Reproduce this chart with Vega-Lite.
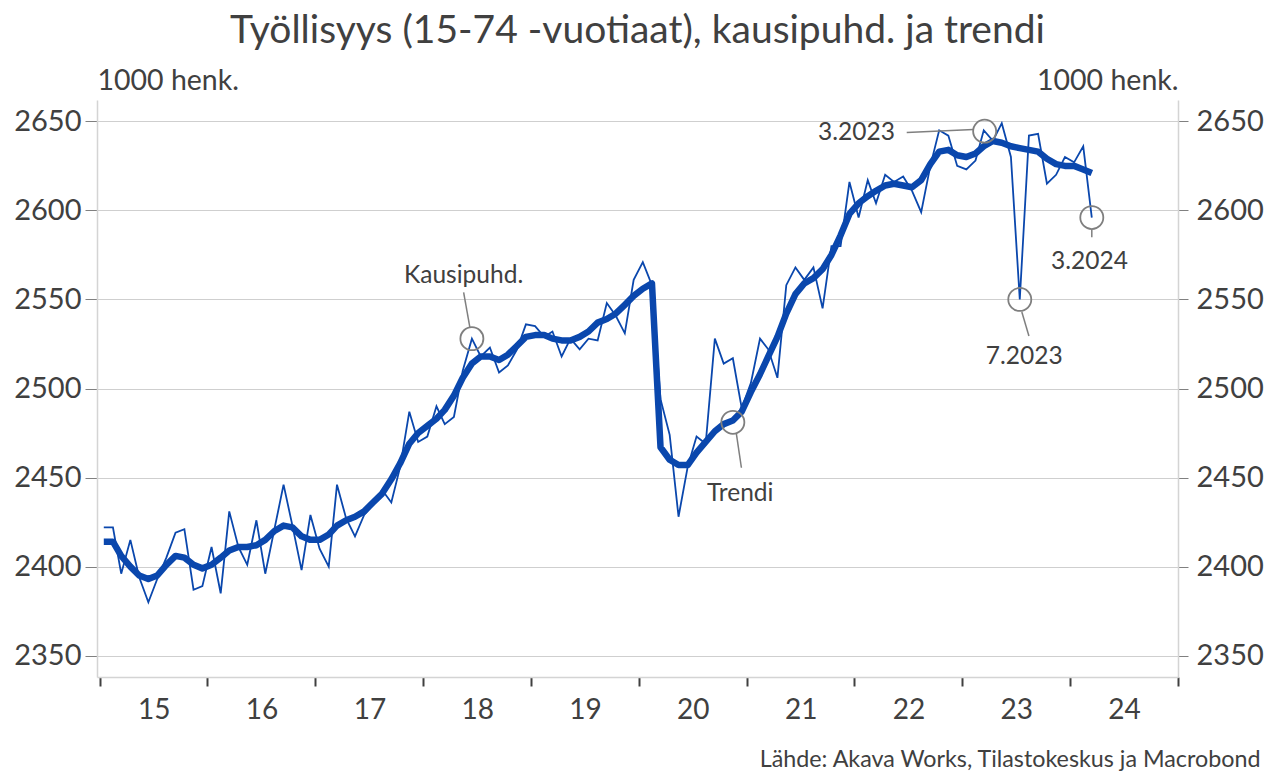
{
  "$schema": "https://vega.github.io/schema/vega-lite/v6.json",
  "width": 1081,
  "height": 577,
  "autosize": {"type": "none"},
  "padding": {"left": 97, "top": 100, "right": 88, "bottom": 96},
  "background": "white",
  "config": {
    "font": "Lato",
    "view": {"stroke": null},
    "axis": {"labelFont": "Lato", "titleFont": "Lato", "labelColor": "#404040", "titleColor": "#404040", "titleFontWeight": "normal"}
  },
  "title": {
    "text": "Työllisyys (15-74 -vuotiaat), kausipuhd. ja trendi",
    "font": "Lato",
    "fontSize": 39,
    "fontWeight": "normal",
    "color": "#404040",
    "anchor": "middle",
    "offset": 15
  },
  "datasets": {
    "series": [
      {"d": "2015-01-15", "sa": 2422, "trend": 2414},
      {"d": "2015-02-15", "sa": 2422, "trend": 2414},
      {"d": "2015-03-15", "sa": 2396, "trend": 2406},
      {"d": "2015-04-15", "sa": 2415, "trend": 2400},
      {"d": "2015-05-15", "sa": 2394, "trend": 2395},
      {"d": "2015-06-15", "sa": 2380, "trend": 2393},
      {"d": "2015-07-15", "sa": 2393, "trend": 2395},
      {"d": "2015-08-15", "sa": 2405, "trend": 2401},
      {"d": "2015-09-15", "sa": 2419, "trend": 2406},
      {"d": "2015-10-15", "sa": 2421, "trend": 2405},
      {"d": "2015-11-15", "sa": 2387, "trend": 2401},
      {"d": "2015-12-15", "sa": 2389, "trend": 2399},
      {"d": "2016-01-15", "sa": 2411, "trend": 2401},
      {"d": "2016-02-15", "sa": 2385, "trend": 2405},
      {"d": "2016-03-15", "sa": 2431, "trend": 2409},
      {"d": "2016-04-15", "sa": 2411, "trend": 2411},
      {"d": "2016-05-15", "sa": 2401, "trend": 2411},
      {"d": "2016-06-15", "sa": 2426, "trend": 2412},
      {"d": "2016-07-15", "sa": 2396, "trend": 2415},
      {"d": "2016-08-15", "sa": 2421, "trend": 2420},
      {"d": "2016-09-15", "sa": 2446, "trend": 2423},
      {"d": "2016-10-15", "sa": 2423, "trend": 2422},
      {"d": "2016-11-15", "sa": 2398, "trend": 2417},
      {"d": "2016-12-15", "sa": 2429, "trend": 2415},
      {"d": "2017-01-15", "sa": 2410, "trend": 2415},
      {"d": "2017-02-15", "sa": 2400, "trend": 2418},
      {"d": "2017-03-15", "sa": 2446, "trend": 2423},
      {"d": "2017-04-15", "sa": 2427, "trend": 2426},
      {"d": "2017-05-15", "sa": 2417, "trend": 2428},
      {"d": "2017-06-15", "sa": 2429, "trend": 2431},
      {"d": "2017-07-15", "sa": 2435, "trend": 2436},
      {"d": "2017-08-15", "sa": 2443, "trend": 2441},
      {"d": "2017-09-15", "sa": 2436, "trend": 2449},
      {"d": "2017-10-15", "sa": 2456, "trend": 2458},
      {"d": "2017-11-15", "sa": 2487, "trend": 2469},
      {"d": "2017-12-15", "sa": 2470, "trend": 2475},
      {"d": "2018-01-15", "sa": 2473, "trend": 2479},
      {"d": "2018-02-15", "sa": 2490, "trend": 2483},
      {"d": "2018-03-15", "sa": 2480, "trend": 2488},
      {"d": "2018-04-15", "sa": 2484, "trend": 2496},
      {"d": "2018-05-15", "sa": 2510, "trend": 2506},
      {"d": "2018-06-15", "sa": 2528, "trend": 2514},
      {"d": "2018-07-15", "sa": 2518, "trend": 2518},
      {"d": "2018-08-15", "sa": 2523, "trend": 2518},
      {"d": "2018-09-15", "sa": 2509, "trend": 2516},
      {"d": "2018-10-15", "sa": 2513, "trend": 2519},
      {"d": "2018-11-15", "sa": 2522, "trend": 2524},
      {"d": "2018-12-15", "sa": 2536, "trend": 2529},
      {"d": "2019-01-15", "sa": 2535, "trend": 2530},
      {"d": "2019-02-15", "sa": 2529, "trend": 2530},
      {"d": "2019-03-15", "sa": 2532, "trend": 2528},
      {"d": "2019-04-15", "sa": 2518, "trend": 2527},
      {"d": "2019-05-15", "sa": 2528, "trend": 2527},
      {"d": "2019-06-15", "sa": 2522, "trend": 2529},
      {"d": "2019-07-15", "sa": 2528, "trend": 2532},
      {"d": "2019-08-15", "sa": 2527, "trend": 2537},
      {"d": "2019-09-15", "sa": 2548, "trend": 2539},
      {"d": "2019-10-15", "sa": 2541, "trend": 2542},
      {"d": "2019-11-15", "sa": 2531, "trend": 2547},
      {"d": "2019-12-15", "sa": 2561, "trend": 2552},
      {"d": "2020-01-15", "sa": 2571, "trend": 2556},
      {"d": "2020-02-15", "sa": 2558, "trend": 2559},
      {"d": "2020-03-15", "sa": 2494, "trend": 2467},
      {"d": "2020-04-15", "sa": 2474, "trend": 2460},
      {"d": "2020-05-15", "sa": 2428, "trend": 2457},
      {"d": "2020-06-15", "sa": 2456, "trend": 2457},
      {"d": "2020-07-15", "sa": 2473, "trend": 2464},
      {"d": "2020-08-15", "sa": 2469, "trend": 2470},
      {"d": "2020-09-15", "sa": 2528, "trend": 2476},
      {"d": "2020-10-15", "sa": 2514, "trend": 2480},
      {"d": "2020-11-15", "sa": 2517, "trend": 2482},
      {"d": "2020-12-15", "sa": 2489, "trend": 2487},
      {"d": "2021-01-15", "sa": 2503, "trend": 2498},
      {"d": "2021-02-15", "sa": 2528, "trend": 2508},
      {"d": "2021-03-15", "sa": 2522, "trend": 2518},
      {"d": "2021-04-15", "sa": 2506, "trend": 2529},
      {"d": "2021-05-15", "sa": 2558, "trend": 2542},
      {"d": "2021-06-15", "sa": 2568, "trend": 2553},
      {"d": "2021-07-15", "sa": 2561, "trend": 2559},
      {"d": "2021-08-15", "sa": 2568, "trend": 2562},
      {"d": "2021-09-15", "sa": 2545, "trend": 2567},
      {"d": "2021-10-15", "sa": 2580, "trend": 2575},
      {"d": "2021-11-15", "sa": 2580, "trend": 2586},
      {"d": "2021-12-15", "sa": 2616, "trend": 2598},
      {"d": "2022-01-15", "sa": 2596, "trend": 2604},
      {"d": "2022-02-15", "sa": 2617, "trend": 2608},
      {"d": "2022-03-15", "sa": 2604, "trend": 2611},
      {"d": "2022-04-15", "sa": 2620, "trend": 2614},
      {"d": "2022-05-15", "sa": 2616, "trend": 2615},
      {"d": "2022-06-15", "sa": 2619, "trend": 2614},
      {"d": "2022-07-15", "sa": 2611, "trend": 2613},
      {"d": "2022-08-15", "sa": 2599, "trend": 2617},
      {"d": "2022-09-15", "sa": 2625, "trend": 2626},
      {"d": "2022-10-15", "sa": 2645, "trend": 2633},
      {"d": "2022-11-15", "sa": 2642, "trend": 2634},
      {"d": "2022-12-15", "sa": 2625, "trend": 2631},
      {"d": "2023-01-15", "sa": 2623, "trend": 2630},
      {"d": "2023-02-15", "sa": 2628, "trend": 2632},
      {"d": "2023-03-15", "sa": 2645, "trend": 2636},
      {"d": "2023-04-15", "sa": 2639, "trend": 2639},
      {"d": "2023-05-15", "sa": 2649, "trend": 2638},
      {"d": "2023-06-15", "sa": 2630, "trend": 2636},
      {"d": "2023-07-15", "sa": 2550, "trend": 2635},
      {"d": "2023-08-15", "sa": 2642, "trend": 2634},
      {"d": "2023-09-15", "sa": 2643, "trend": 2633},
      {"d": "2023-10-15", "sa": 2615, "trend": 2629},
      {"d": "2023-11-15", "sa": 2620, "trend": 2626},
      {"d": "2023-12-15", "sa": 2630, "trend": 2625},
      {"d": "2024-01-15", "sa": 2627, "trend": 2625},
      {"d": "2024-02-15", "sa": 2636, "trend": 2623},
      {"d": "2024-03-15", "sa": 2596, "trend": 2621}
    ],
    "circles": [
      {"d": "2018-06-15", "v": 2528},
      {"d": "2020-11-15", "v": 2481},
      {"d": "2023-03-18", "v": 2644.5},
      {"d": "2023-07-15", "v": 2550},
      {"d": "2024-03-15", "v": 2596}
    ],
    "leaders": [
      {"d": "2018-05-18", "v": 2554, "d2": "2018-06-08", "v2": 2534.5},
      {"d": "2020-11-27", "v": 2474.5, "d2": "2020-12-14", "v2": 2455.5},
      {"d": "2022-06-27", "v": 2643.8, "d2": "2023-02-08", "v2": 2645.5},
      {"d": "2023-07-22", "v": 2543, "d2": "2023-08-15", "v2": 2529.5},
      {"d": "2024-03-15", "v": 2589, "d2": "2024-03-15", "v2": 2585}
    ],
    "labels": [
      {"d": "2018-05-18", "v": 2563, "t": "Kausipuhd."},
      {"d": "2020-12-10", "v": 2441, "t": "Trendi"},
      {"d": "2022-01-08", "v": 2643.5, "t": "3.2023"},
      {"d": "2023-07-30", "v": 2517.7, "t": "7.2023"},
      {"d": "2024-03-07", "v": 2571, "t": "3.2024"}
    ]
  },
  "layer": [
    {
      "data": {"name": "series"},
      "mark": {"type": "line", "color": "#0a47ad", "strokeWidth": 1.8, "strokeJoin": "miter"},
      "encoding": {
        "x": {
          "field": "d", "type": "temporal",
          "scale": {"type": "utc", "domain": [{"year": 2014, "month": 12, "date": 23, "utc": true}, {"year": 2025, "month": 1, "date": 1, "utc": true}]},
          "axis": {
            "values": [
              {"year": 2015, "month": 1, "date": 1, "utc": true},
              {"year": 2016, "month": 1, "date": 1, "utc": true},
              {"year": 2017, "month": 1, "date": 1, "utc": true},
              {"year": 2018, "month": 1, "date": 1, "utc": true},
              {"year": 2019, "month": 1, "date": 1, "utc": true},
              {"year": 2020, "month": 1, "date": 1, "utc": true},
              {"year": 2021, "month": 1, "date": 1, "utc": true},
              {"year": 2022, "month": 1, "date": 1, "utc": true},
              {"year": 2023, "month": 1, "date": 1, "utc": true},
              {"year": 2024, "month": 1, "date": 1, "utc": true},
              {"year": 2025, "month": 1, "date": 1, "utc": true}
            ],
            "labelExpr": "utcyear(datum.value) < 2025 ? utcFormat(datum.value, '%y') : ''",
            "labelOffset": 54,
            "labelFlush": false,
            "labelOverlap": false,
            "labelFontSize": 28,
            "labelPadding": 10,
            "grid": false,
            "domainColor": "#d4d4d4",
            "domainWidth": 1.5,
            "tickColor": "#404040",
            "tickWidth": 2,
            "tickSize": 9,
            "title": "Lähde: Akava Works, Tilastokeskus ja Macrobond",
            "titleFontSize": 23.3,
            "titleAnchor": "end",
            "titleAlign": "right",
            "titleBaseline": "alphabetic",
            "titleX": 1163,
            "titleY": 89
          }
        },
        "y": {
          "field": "sa", "type": "quantitative",
          "scale": {"domain": [2338, 2662], "nice": false, "zero": false},
          "axis": {
            "orient": "left",
            "values": [2350, 2400, 2450, 2500, 2550, 2600, 2650],
            "format": "d",
            "labelFontSize": 29,
            "labelPadding": 4,
            "grid": true,
            "gridColor": "#cfcfcf",
            "gridWidth": 1,
            "domainColor": "#d4d4d4",
            "domainWidth": 1.5,
            "tickColor": "#808080",
            "tickSize": 12,
            "tickWidth": 1,
            "title": "1000 henk.",
            "titleFontSize": 28.5,
            "titleAngle": 0,
            "titleAlign": "left",
            "titleAnchor": "start",
            "titleBaseline": "alphabetic",
            "titleX": 0,
            "titleY": -11
          }
        }
      }
    },
    {
      "data": {"name": "series"},
      "mark": {"type": "line", "color": "#0a47ad", "strokeWidth": 6.5, "strokeCap": "butt", "strokeJoin": "round"},
      "encoding": {
        "x": {"field": "d", "type": "temporal"},
        "y": {
          "field": "trend", "type": "quantitative",
          "axis": {
            "orient": "right",
            "values": [2350, 2400, 2450, 2500, 2550, 2600, 2650],
            "format": "d",
            "labelFontSize": 29,
            "labelPadding": 8,
            "grid": false,
            "domainColor": "#d4d4d4",
            "domainWidth": 1.5,
            "tickColor": "#808080",
            "tickSize": 10,
            "tickWidth": 1,
            "title": "1000 henk.",
            "titleFontSize": 28.5,
            "titleAngle": 0,
            "titleAlign": "right",
            "titleAnchor": "start",
            "titleBaseline": "alphabetic",
            "titleX": 0,
            "titleY": -11
          }
        }
      }
    },
    {
      "data": {"name": "leaders"},
      "mark": {"type": "rule", "color": "#7f7f7f", "strokeWidth": 1.5},
      "encoding": {
        "x": {"field": "d", "type": "temporal"},
        "x2": {"field": "d2"},
        "y": {"field": "v", "type": "quantitative", "axis": null},
        "y2": {"field": "v2"}
      }
    },
    {
      "data": {"name": "circles"},
      "mark": {"type": "point", "shape": "circle", "filled": false, "size": 530, "stroke": "#7f7f7f", "strokeWidth": 1.8, "opacity": 1},
      "encoding": {
        "x": {"field": "d", "type": "temporal"},
        "y": {"field": "v", "type": "quantitative", "axis": null}
      }
    },
    {
      "data": {"name": "labels"},
      "mark": {"type": "text", "font": "Lato", "fontSize": 24.5, "color": "#404040", "align": "center", "baseline": "middle"},
      "encoding": {
        "x": {"field": "d", "type": "temporal"},
        "y": {"field": "v", "type": "quantitative", "axis": null},
        "text": {"field": "t"}
      }
    }
  ],
  "resolve": {"axis": {"y": "independent"}}
}
